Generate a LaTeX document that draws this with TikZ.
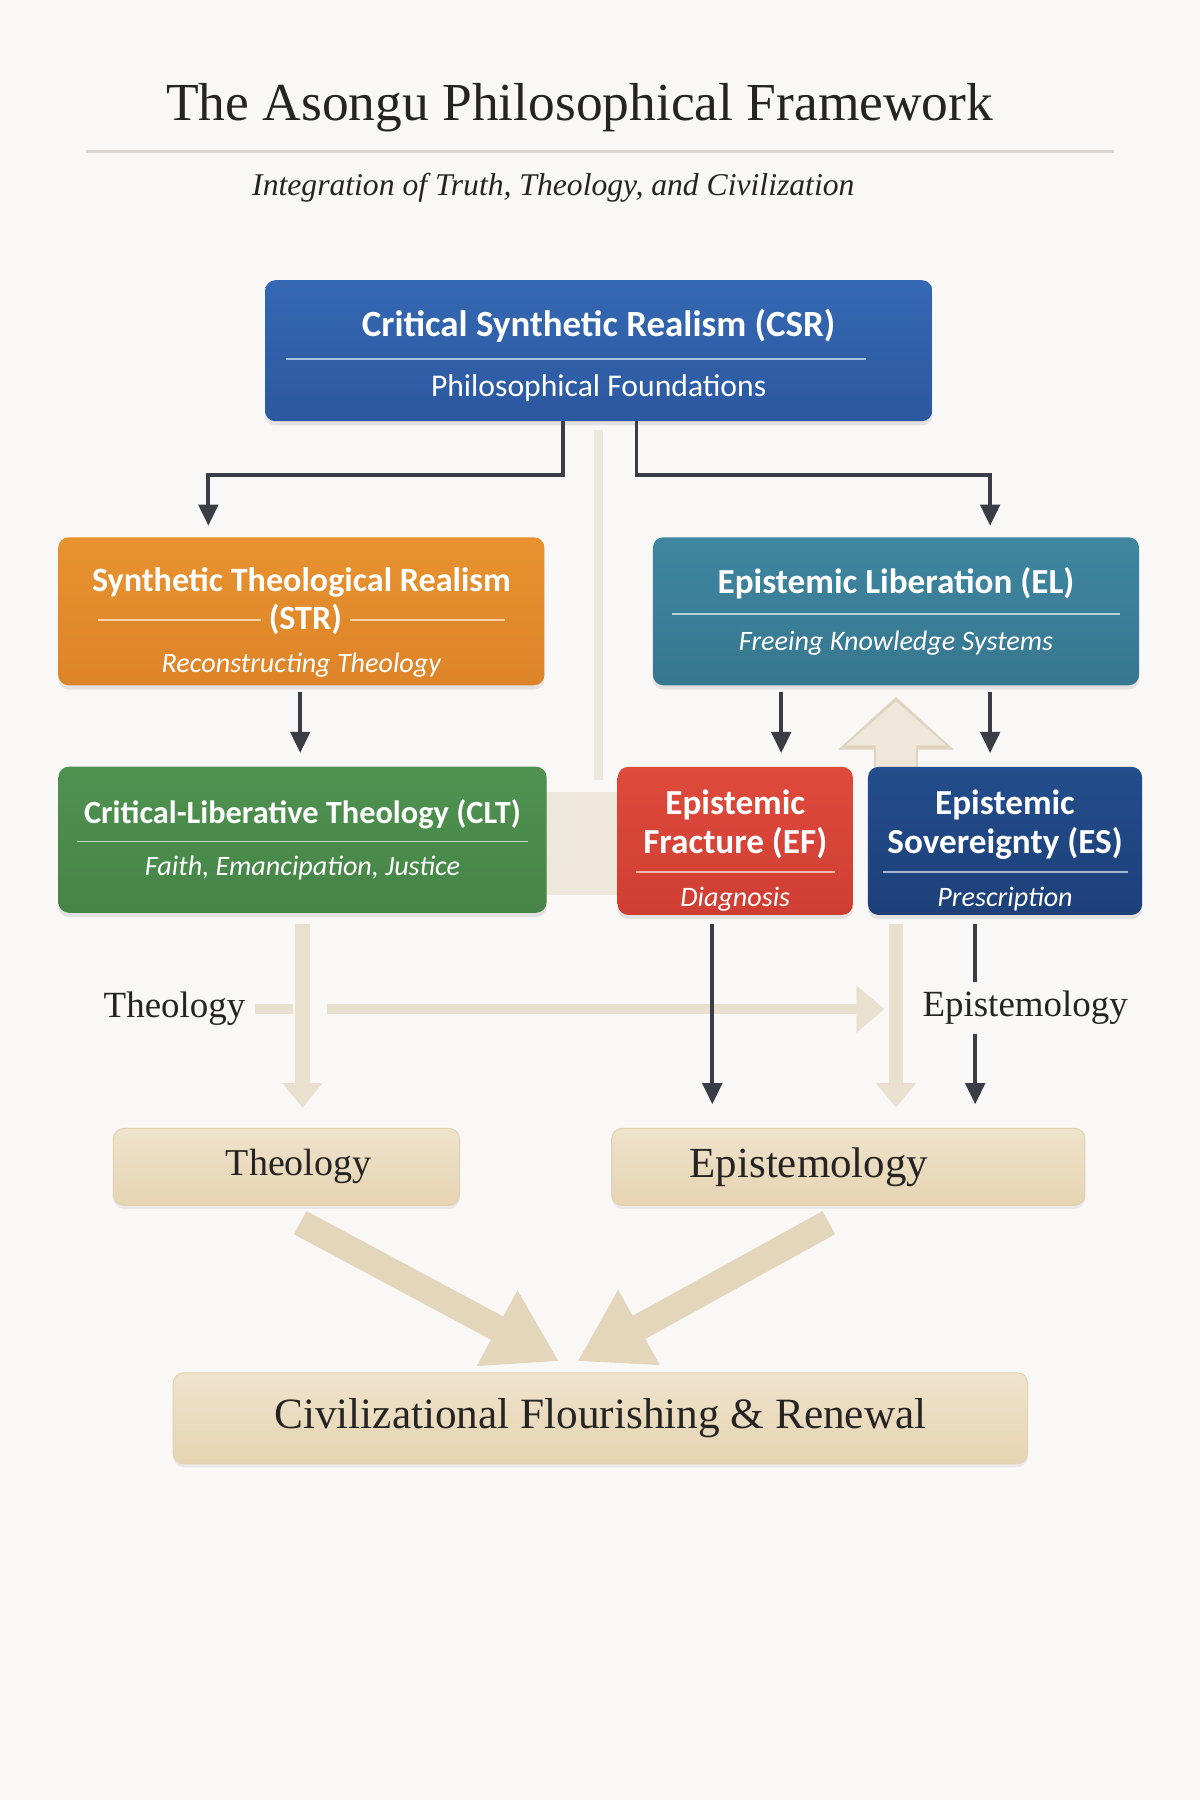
\documentclass[tikz,border=0pt]{standalone}
\usepackage{fontspec}
\setmainfont{Liberation Serif}
\newfontfamily\boxfont{Carlito}
\usetikzlibrary{calc,positioning,arrows.meta,shadows}

\definecolor{bgc}{HTML}{FAF8F7}
\definecolor{inkc}{HTML}{262422}
\definecolor{rulec}{HTML}{D9D6D3}
\definecolor{csrT}{HTML}{3568B3}
\definecolor{csrB}{HTML}{2C58A0}
\definecolor{csrL}{HTML}{A9BFE0}
\definecolor{strT}{HTML}{E7922F}
\definecolor{strB}{HTML}{DD8429}
\definecolor{strL}{HTML}{F6D3A8}
\definecolor{elT}{HTML}{3F86A0}
\definecolor{elB}{HTML}{37778F}
\definecolor{elL}{HTML}{B5D3DE}
\definecolor{cltT}{HTML}{4F9250}
\definecolor{cltB}{HTML}{468447}
\definecolor{cltL}{HTML}{BBD9BB}
\definecolor{efT}{HTML}{DE4B3C}
\definecolor{efB}{HTML}{D03D33}
\definecolor{efL}{HTML}{F3B8B0}
\definecolor{esT}{HTML}{234D8C}
\definecolor{esB}{HTML}{1D4079}
\definecolor{esL}{HTML}{A6B8D8}
\definecolor{arrc}{HTML}{3A3D45}
\definecolor{paleA}{HTML}{E9E0D0}
\definecolor{paleL}{HTML}{EEE7DC}
\definecolor{paleU}{HTML}{EFE7DA}
\definecolor{paleD}{HTML}{E0D4BF}
\definecolor{bigA}{HTML}{E4D6BB}
\definecolor{parchT}{HTML}{EFE3CC}
\definecolor{parchB}{HTML}{E6D4B2}
\definecolor{parchD}{HTML}{E2D2B4}

\newcommand{\sepline}[2]{{\color{#2}\rule[2.5pt]{#1}{0.5pt}}}
\newcommand{\tpad}[1]{\rule{0pt}{#1}}
\newcommand{\inset}[3]{\makebox[#1][l]{\hspace*{#2}#3}}

\pgfdeclarelayer{bg}
\pgfdeclarelayer{back}
\pgfsetlayers{bg,back,main}

\begin{document}
\begin{tikzpicture}[x=0.01148cm, y=-0.01148cm,
    cbox/.style={rounded corners=3pt, inner sep=0pt, outer sep=0pt, align=center, text=white,
      font=\boxfont\fontsize{10}{12}\selectfont,
      drop shadow={shadow xshift=0pt, shadow yshift=-1.2pt, opacity=0.18}},
    pbox/.style={rounded corners=3pt, inner sep=0pt, outer sep=0pt, top color=parchT, bottom color=parchB,
      draw=parchD, line width=0.3pt, text=inkc, font=\fontsize{11.5}{14}\selectfont,
      drop shadow={shadow xshift=0pt, shadow yshift=-1pt, opacity=0.12}},
    sublbl/.style={text=inkc, font=\fontsize{10.5}{12}\selectfont, inner sep=2.5pt},
    darr/.style={draw=arrc, line width=1.1pt, -{Triangle[width=5.5pt,length=6pt]}},
    palearr/.style={draw=paleA, line width=4pt, -{Triangle[width=11pt,length=7pt]}},
    bigarr/.style={draw=bigA, line width=7.5pt, -{Triangle[width=23pt,length=20pt]}}]

  \begin{pgfonlayer}{bg}
    \fill[bgc] (0,0) rectangle (1045,1568);
  \end{pgfonlayer}

  % heading
  \node[text=inkc, font=\fontsize{15.2}{18}\selectfont] (ttl) at (505,94) {The Asongu Philosophical Framework};
  \draw[rulec, line width=0.6pt] (75,132) -- (970,132);
  \node[text=inkc, font=\itshape\fontsize{9}{11}\selectfont] (sub) at (482,164) {Integration of Truth, Theology, and Civilization};

  % coloured boxes
  \node[cbox, top color=csrT, bottom color=csrB, minimum width=6.67cm, minimum height=1.41cm,
        font=\boxfont\fontsize{10.5}{12}\selectfont] (csr) at (521.5,305.5)
    {{\tpad{10.5pt}\bfseries Critical Synthetic Realism (CSR)}\\[-3pt] \hspace*{-0.45cm}\sepline{5.8cm}{csrL}\\[-4pt]
     {\fontsize{9}{11}\selectfont Philosophical Foundations}};

  \node[cbox, top color=strT, bottom color=strB, minimum width=4.86cm, minimum height=1.48cm,
        font=\boxfont\fontsize{9.7}{12}\selectfont] (str) at (262.5,532.5)
    {{\tpad{13pt}\bfseries Synthetic Theological Realism}\\[-1pt]
     {\bfseries\sepline{1.63cm}{strL}\ (STR)\ \sepline{1.55cm}{strL}}\\[0pt]
     {\itshape\fontsize{8}{10}\selectfont Reconstructing Theology}};

  \node[cbox, top color=elT, bottom color=elB, minimum width=4.86cm, minimum height=1.48cm] (el) at (780.5,532.5)
    {{\bfseries Epistemic Liberation (EL)}\\[-3.5pt] \sepline{4.47cm}{elL}\\[-4.5pt]
     {\itshape\fontsize{8}{10}\selectfont Freeing Knowledge Systems}};

  \node[cbox, top color=cltT, bottom color=cltB, minimum width=4.88cm, minimum height=1.46cm,
        font=\boxfont\fontsize{9.2}{12}\selectfont] (clt) at (263.5,731.5)
    {{\bfseries Critical-Liberative Theology (CLT)}\\[-4pt] \sepline{4.51cm}{cltL}\\[-5pt]
     {\itshape\fontsize{8}{10}\selectfont Faith, Emancipation, Justice}};

  \node[cbox, top color=efT, bottom color=efB, minimum width=2.35cm, minimum height=1.48cm] (ef) at (640.5,732.5)
    {{\tpad{12.5pt}\bfseries Epistemic}\\[-1pt] {\bfseries Fracture (EF)}\\[-4pt] \sepline{1.99cm}{efL}\\[-5pt]
     {\itshape\fontsize{8}{10}\selectfont Diagnosis}};

  \node[cbox, top color=esT, bottom color=esB, minimum width=2.74cm, minimum height=1.48cm] (es) at (875.5,732.5)
    {{\tpad{12.5pt}\bfseries Epistemic}\\[-1pt] {\bfseries Sovereignty (ES)}\\[-4pt] \sepline{2.45cm}{esL}\\[-5pt]
     {\itshape\fontsize{8}{10}\selectfont Prescription}};

  % parchment boxes
  \node[pbox, minimum width=3.46cm, minimum height=0.77cm, font=\fontsize{10.8}{13}\selectfont] (theo) at (249.5,1016.5)
    {\inset{3.46cm}{1.125cm}{Theology}};
  \node[pbox, minimum width=4.73cm, minimum height=0.77cm, font=\fontsize{12.2}{14}\selectfont] (epis) at (739,1016.5)
    {\inset{4.73cm}{0.78cm}{Epistemology}};
  \node[pbox, minimum width=8.54cm, minimum height=0.91cm, font=\fontsize{12.3}{15}\selectfont] (civ) at (523,1235.5)
    {Civilizational Flourishing \& Renewal};

  % side labels
  \node[sublbl] (lblTheo) at (152,879) {Theology};
  \node[sublbl] (lblEpis) at (893,878) {Epistemology};

  % pale links behind
  \begin{pgfonlayer}{back}
    \draw[paleL, line width=2.6pt] ($(csr.south)+(0,8)$) -- ($(csr.south |- clt.north)+(0,12)$);
    \fill[paleL] ($(clt.east)+(-2,-41.5)$) rectangle ($(ef.west)+(2,47.5)$);
    \draw[paleD, line width=12.7pt, -{Triangle[width=32pt,length=15pt]}] (el.south |- es.north) -- ($(el.south)+(0,10)$);
    \draw[paleU, line width=11.2pt, -{Triangle[width=28pt,length=12.5pt]}] ($(el.south |- es.north)+(0,2)$) -- ($(el.south)+(0,14)$);
    \draw[palearr] ($(clt.south)+(0,10)$) -- ($(clt.south |- theo.north)+(0,-18)$);
    \draw[palearr] ($(el.south |- es.south)+(0,8)$) -- ($(el.south |- epis.north)+(0,-18)$);
    \draw[paleA, line width=2.6pt] (lblTheo.east) -- ($(clt.south |- lblTheo.east)+(-8,0)$);
    \draw[paleA, line width=2.6pt, -{Triangle[width=13pt,length=8pt]}] ($(clt.south |- lblTheo.east)+(21,0)$) -- ($(el.south |- lblTheo.east)+(-10,0)$);
    \draw[bigarr] ($(theo.south)+(12,15)$) -- ($(civ.north)+(-36,-10)$);
    \draw[bigarr] ($(epis.south)+(-17,15)$) -- ($(civ.north)+(-20,-10)$);
  \end{pgfonlayer}

  % dark connectors
  \draw[darr] ($(csr.south)+(-31,0)$) -- ++(0,47) -| ($(str.north)+(-81,-10)$);
  \draw[darr] ($(csr.south)+(33,0)$) -- ++(0,47) -| ($(el.north)+(82,-10)$);
  \draw[darr] ($(str.south)+(-1,6)$) -- ($(str.south |- clt.north)+(-1,-12)$);
  \coordinate (elA) at ($(el.south)+(-100,6)$);
  \coordinate (elB) at ($(el.south)+(82,6)$);
  \draw[darr] (elA) -- ($(elA |- ef.north)+(0,-12)$);
  \draw[darr] (elB) -- ($(elB |- es.north)+(0,-12)$);
  \coordinate (efA) at ($(ef.south)+(-20,8)$);
  \draw[darr] (efA) -- ($(efA |- epis.north)+(0,-21)$);
  \coordinate (esA) at ($(es.south)+(-26,8)$);
  \draw[arrc, line width=1.1pt] (esA) -- (esA |- lblEpis.north);
  \draw[darr] (esA |- lblEpis.south) -- ($(esA |- epis.north)+(0,-21)$);
\end{tikzpicture}
\end{document}
